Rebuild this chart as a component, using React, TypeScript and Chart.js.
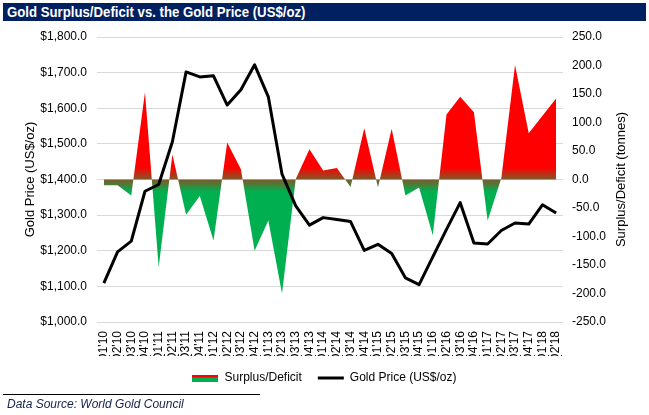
import { useEffect, useRef } from 'react'
import { Chart, registerables } from 'chart.js'

Chart.register(...registerables)

const quarters = [
  "Q1'10", "Q2'10", "Q3'10", "Q4'10", "Q1'11", "Q2'11", "Q3'11", "Q4'11",
  "Q1'12", "Q2'12", "Q3'12", "Q4'12", "Q1'13", "Q2'13", "Q3'13", "Q4'13",
  "Q1'14", "Q2'14", "Q3'14", "Q4'14", "Q1'15", "Q2'15", "Q3'15", "Q4'15",
  "Q1'16", "Q2'16", "Q3'16", "Q4'16", "Q1'17", "Q2'17", "Q3'17", "Q4'17",
  "Q1'18", "Q2'18",
]

// tonnes, right axis
const surplusDeficit = [
  -10, -10, -28, 153, -154, 44, -62, -29,
  -107, 65, 18, -125, -72, -200, 1, 53,
  16, 20, -13, 90, -14, 89, -28, -14,
  -98, 114, 145, 118, -72, 2, 201, 81,
  112, 142,
]

// US$/oz, left axis
const goldPrice = [
  1109, 1197, 1227, 1367, 1386, 1506, 1702, 1688,
  1691, 1609, 1652, 1722, 1632, 1415, 1326, 1272,
  1293, 1288, 1282, 1201, 1218, 1192, 1124, 1105,
  1183, 1260, 1335, 1222, 1219, 1257, 1278, 1275,
  1329, 1306,
]

const FONT = "'Liberation Sans', Arial, sans-serif"
const RED = '#FF0000'
const GREEN = '#00B050'

export default function App() {
  const chartRef = useRef<HTMLCanvasElement>(null)
  const chartInstance = useRef<Chart | null>(null)

  useEffect(() => {
    document.body.style.margin = '0'
    if (!chartRef.current) return
    if (chartInstance.current) chartInstance.current.destroy()
    const ctx = chartRef.current.getContext('2d')
    if (!ctx) return

    // legend swatch: red over green
    const swatch = document.createElement('canvas')
    swatch.width = 26
    swatch.height = 7
    const sctx = swatch.getContext('2d')!
    sctx.fillStyle = RED
    sctx.fillRect(0, 0, 26, 3)
    sctx.fillStyle = GREEN
    sctx.fillRect(0, 3, 26, 4)

    const rightTitle = {
      id: 'rightTitle',
      afterDraw(chart: any) {
        const c = chart.ctx
        const { top, bottom } = chart.chartArea
        c.save()
        c.translate(621, (top + bottom) / 2)
        c.rotate(-Math.PI / 2)
        c.font = `13px ${FONT}`
        c.fillStyle = '#000'
        c.textAlign = 'center'
        c.textBaseline = 'middle'
        c.fillText('Surplus/Deficit (tonnes)', 0, 0)
        c.restore()
      },
    }

    chartInstance.current = new Chart(ctx, {
      type: 'line',
      data: {
        labels: quarters,
        datasets: [
          {
            label: 'Surplus/Deficit',
            data: surplusDeficit,
            yAxisID: 'y1',
            fill: 'origin',
            borderWidth: 0,
            pointRadius: 0,
            tension: 0,
            order: 1,
            backgroundColor: (c: any) => {
              const chart = c.chart
              if (!chart.chartArea) return RED
              const z = chart.scales.y1.getPixelForValue(0)
              const g = chart.ctx.createLinearGradient(0, z - 12, 0, z + 12)
              g.addColorStop(0, RED)
              g.addColorStop(1, GREEN)
              return g
            },
          },
          {
            label: 'Gold Price (US$/oz)',
            data: goldPrice,
            yAxisID: 'y',
            borderColor: '#000',
            borderWidth: 3,
            pointRadius: 0,
            tension: 0,
            fill: false,
            borderJoinStyle: 'round',
            order: 0,
          },
        ],
      },
      options: {
        responsive: true,
        maintainAspectRatio: false,
        animation: false,
        layout: { padding: { top: 37, left: 0, right: 0, bottom: 21 } },
        font: { family: FONT, size: 12 },
        color: '#000',
        plugins: {
          tooltip: { enabled: false },
          legend: {
            position: 'bottom',
            labels: {
              usePointStyle: true,
              pointStyleWidth: 26,
              boxHeight: 12,
              padding: 16,
              color: '#000',
              font: { family: FONT, size: 12 },
              generateLabels: () => [
                {
                  text: 'Surplus/Deficit',
                  pointStyle: swatch,
                  fillStyle: 'transparent',
                  strokeStyle: 'transparent',
                  lineWidth: 0,
                  datasetIndex: 0,
                  hidden: false,
                  fontColor: '#000',
                } as any,
                {
                  text: 'Gold Price (US$/oz)',
                  pointStyle: 'line',
                  fillStyle: '#000',
                  strokeStyle: '#000',
                  lineWidth: 3,
                  datasetIndex: 1,
                  hidden: false,
                  fontColor: '#000',
                } as any,
              ],
            },
          },
        },
        scales: {
          x: {
            offset: true,
            grid: { display: false },
            border: { display: false },
            ticks: {
              minRotation: 90,
              maxRotation: 90,
              autoSkip: false,
              padding: 1,
              color: '#000',
              font: { family: FONT, size: 12 },
            },
            afterFit: (s: any) => { s.height = 34 },
          },
          y: {
            position: 'left',
            min: 1000,
            max: 1800,
            grid: { color: '#D9D9D9', drawTicks: false },
            border: { display: false },
            ticks: {
              stepSize: 100,
              padding: 10,
              color: '#000',
              font: { family: FONT, size: 12 },
              callback: (v: any) =>
                '$' + Number(v).toLocaleString('en-US', { minimumFractionDigits: 1, maximumFractionDigits: 1 }),
            },
            title: {
              display: true,
              text: 'Gold Price (US$/oz)',
              color: '#000',
              font: { family: FONT, size: 13 },
              padding: { top: 23, bottom: 0 },
            },
            afterFit: (s: any) => { s.width = 97 },
          },
          y1: {
            position: 'right',
            min: -250,
            max: 250,
            grid: { display: false, drawTicks: false },
            border: { display: false },
            ticks: {
              stepSize: 50,
              padding: 9,
              color: '#000',
              font: { family: FONT, size: 12 },
              callback: (v: any) => Number(v).toFixed(1),
            },
            afterFit: (s: any) => { s.width = 86 },
          },
        },
      },
      plugins: [rightTitle],
    })

    return () => {
      if (chartInstance.current) {
        chartInstance.current.destroy()
        chartInstance.current = null
      }
    }
  }, [])

  return (
    <div style={{ position: 'relative', width: 649, height: 415, background: '#fff', overflow: 'hidden' }}>
      <div style={{ position: 'absolute', left: 0, top: 0, width: 649, height: 415 }}>
        <canvas ref={chartRef} />
      </div>
      <div
        style={{
          position: 'absolute', left: 3, top: 3, width: 643, height: 18, background: '#002060',
          color: '#fff', fontFamily: "'Liberation Sans', Arial, sans-serif",
          fontWeight: 'bold', fontSize: 15, lineHeight: '18px', paddingLeft: 4, boxSizing: 'border-box',
          whiteSpace: 'nowrap',
        }}
      >
        <span style={{ display: 'inline-block', transform: 'scaleX(0.88)', transformOrigin: 'left center' }}>
          Gold Surplus/Deficit vs. the Gold Price (US$/oz)
        </span>
      </div>
      <div style={{ position: 'absolute', left: 3, top: 394, width: 257, height: 1, background: '#000' }} />
      <div
        style={{
          position: 'absolute', left: 7, top: 397, fontFamily: FONT, fontStyle: 'italic', fontSize: 12,
          color: '#14204a', lineHeight: '14px', whiteSpace: 'nowrap',
        }}
      >
        Data Source: World Gold Council
      </div>
    </div>
  )
}
